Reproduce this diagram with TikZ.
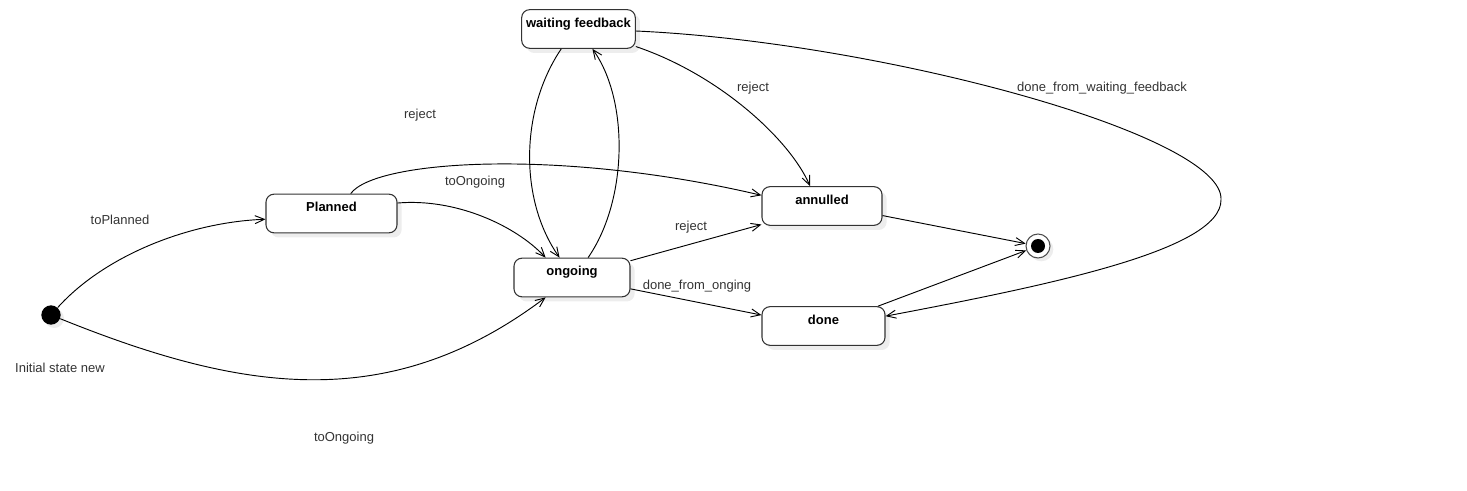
\documentclass[tikz,border=0pt]{standalone}
\usepackage{fontspec}
\setmainfont{Liberation Sans}
\usetikzlibrary{arrows.meta,shadows}

\begin{document}
\begin{tikzpicture}[x=0.75pt, y=-0.75pt, >={Straight Barb[length=7pt,width=6pt]},
    every node/.style={font=\fontsize{9.75}{11.7}\selectfont},
    state/.style={draw=black!80, line width=0.8pt, rounded corners=6pt, fill=white, inner ysep=0pt,
      text height=13.2pt, text depth=15.8pt, font=\fontsize{9.75}{11.7}\selectfont\bfseries,
      drop shadow={shadow xshift=3.5pt, shadow yshift=-3.5pt, fill=black!7, opacity=1}},
    lbl/.style={text=black!80, inner sep=0pt},
    trans/.style={->, line width=0.7pt}]
  \useasboundingbox (0,0) rectangle (1467,491);
  \node[state, minimum width=84.75pt] (waiting) at (578.5,29) {waiting feedback};
  \node[state, minimum width=98.25pt] (planned) at (331.5,213.5) {Planned};
  \node[state, minimum width=87pt] (ongoing) at (572,277.5) {ongoing};
  \node[state, minimum width=90pt] (annulled) at (822,206) {annulled};
  \node[state, minimum width=92.25pt] (done) at (823.5,326) {done};
  \node[circle, fill=black, minimum size=14.5pt, inner sep=0pt,
    drop shadow={shadow xshift=2.5pt, shadow yshift=-2.5pt, fill=black!7, opacity=1}] (init) at (51,315) {};
  \node[circle, draw=black!70, line width=0.8pt, fill=white, minimum size=18pt, inner sep=0pt,
    drop shadow={shadow xshift=2.5pt, shadow yshift=-2.5pt, fill=black!7, opacity=1}] (final) at (1038,246) {};
  \node[circle, fill=black, minimum size=10.5pt, inner sep=0pt] (finaldot) at (final) {};

  \node[lbl] (lInit) at (60,367.5) {Initial state new};
  \node[lbl] (lToPlanned) at (120,219.5) {toPlanned};
  \node[lbl] (lRejectPlanned) at (420,115.5) {reject};
  \node[lbl] (lToOngoingPlanned) at (475,182.5) {toOngoing};
  \node[lbl] (lRejectWaiting) at (753,88.5) {reject};
  \node[lbl] (lDoneWaiting) at (1102,88.5) {done\_from\_waiting\_feedback};
  \node[lbl] (lRejectOngoing) at (691,227.5) {reject};
  \node[lbl] (lDoneOngoing) at (697,286.5) {done\_from\_onging};
  \node[lbl] (lToOngoingInit) at (344,438.5) {toOngoing};

  \draw[trans] (init) .. controls (105,255) and (190,222) .. (planned.185);
  \draw[trans] (init) .. controls (237,390) and (387,417) .. (ongoing.217);
  \draw[trans] (planned.46) .. controls (375,160) and (560,148) .. (annulled.170);
  \draw[trans] (planned.9) .. controls (455,198) and (515,225) .. (ongoing.143);
  \draw[trans] (ongoing.51) .. controls (628,200) and (629,100) .. (waiting.-55);
  \draw[trans] (waiting.229) .. controls (520,110) and (519,200) .. (ongoing.122);
  \draw[trans] (waiting.-17) .. controls (720,75) and (790,140) .. (annulled.121);
  \draw[trans] (waiting.-2) .. controls (880,42) and (1225,135) .. (1221,200)
    .. controls (1221,250) and (1050,285) .. (done.9);
  \draw[trans] (ongoing.16) -- (annulled.197);
  \draw[trans] (ongoing.-11) -- (done.170);
  \draw[trans] (annulled.-9) -- (final);
  \draw[trans] (done.20) -- (final);
\end{tikzpicture}
\end{document}
